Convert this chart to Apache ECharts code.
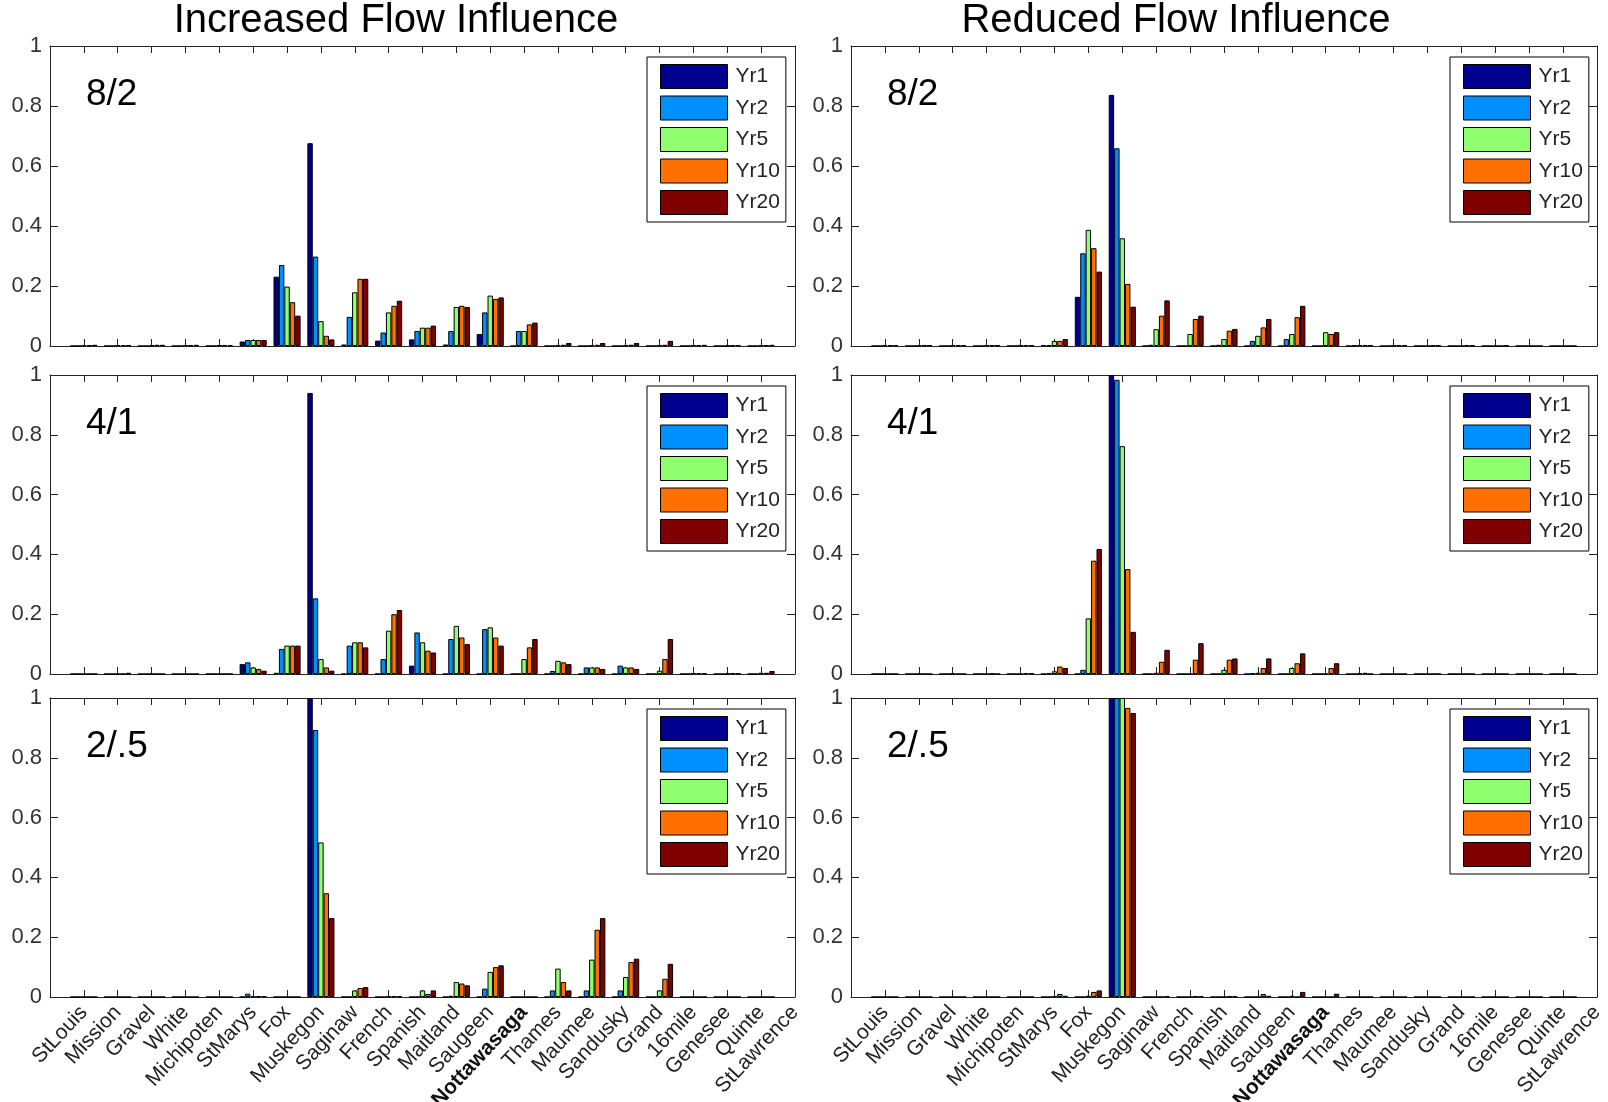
<!DOCTYPE html>
<html>
<head>
<meta charset="utf-8">
<script src="https://cdn.jsdelivr.net/npm/echarts@6/dist/echarts.min.js"></script>
<style>
  html, body { margin: 0; padding: 0; background: #fff; }
  #chart { width: 1608px; height: 1102px; }
</style>
</head>
<body>
<div id="chart"></div>
<script>
// River mouths, west to east (22 labels; data exists for the first 21)
const sites = ['StLouis', 'Mission', 'Gravel', 'White', 'Michipoten', 'StMarys', 'Fox',
  'Muskegon', 'Saginaw', 'French', 'Spanish', 'Maitland', 'Saugeen', 'Nottawasaga',
  'Thames', 'Maumee', 'Sandusky', 'Grand', '16mile', 'Genesee', 'Quinte', 'StLawrence'];
const years = ['Yr1', 'Yr2', 'Yr5', 'Yr10', 'Yr20'];
const yearColors = ['#00008F', '#008FFF', '#8FFF70', '#FF7000', '#800000'];
const yTickValues = [0, 0.2, 0.4, 0.6, 0.8, 1];
const columnTitles = ['Increased Flow Influence', 'Reduced Flow Influence'];
const rowLabels = ['8/2', '4/1', '2/.5'];

// Increased flow influence, 8/2
const inc82Yr1  = [0,0,0,0,0, 0.015,0.231,0.676,0.005,0.018, 0.022,0.005,0.040,0,0, 0,0,0,0,0, 0];
const inc82Yr2  = [0,0,0,0,0, 0.020,0.270,0.298,0.097,0.045, 0.050,0.050,0.112,0.050,0, 0,0,0,0,0, 0];
const inc82Yr5  = [0.003,0.003,0.003,0.003,0.003, 0.020,0.198,0.083,0.179,0.112, 0.061,0.130,0.168,0.050,0.003, 0.003,0.003,0.003,0.003,0.002, 0.003];
const inc82Yr10 = [0.003,0.003,0.004,0.003,0.003, 0.020,0.146,0.034,0.224,0.134, 0.061,0.134,0.157,0.072,0.004, 0.004,0.004,0.004,0.003,0.002, 0.003];
const inc82Yr20 = [0.004,0.003,0.004,0.004,0.003, 0.020,0.101,0.022,0.224,0.151, 0.068,0.130,0.162,0.078,0.010, 0.010,0.010,0.017,0.004,0.003, 0.004];

// Reduced flow influence, 8/2
const red82Yr1  = [0,0,0,0,0, 0.003,0.164,0.837,0,0, 0,0,0,0,0, 0,0,0,0,0, 0];
const red82Yr2  = [0,0,0,0,0, 0.003,0.309,0.659,0.004,0, 0.004,0.017,0.023,0,0.002, 0,0,0,0,0, 0];
const red82Yr5  = [0.003,0.002,0.003,0.003,0.003, 0.017,0.387,0.359,0.056,0.040, 0.023,0.034,0.040,0.046,0.003, 0.002,0,0,0,0, 0];
const red82Yr10 = [0.003,0.003,0.003,0.003,0.003, 0.017,0.326,0.207,0.101,0.090, 0.051,0.062,0.096,0.040,0.003, 0.003,0.002,0.002,0,0, 0];
const red82Yr20 = [0.003,0.003,0.003,0.003,0.003, 0.023,0.248,0.131,0.152,0.101, 0.057,0.090,0.134,0.046,0.003, 0.003,0.002,0.002,0.002,0, 0];

// Increased flow influence, 4/1
const inc41Yr1  = [0,0,0,0,0, 0.033,0.004,0.940,0,0, 0.028,0,0,0,0, 0,0,0,0,0, 0];
const inc41Yr2  = [0,0,0,0,0, 0.039,0.084,0.253,0.095,0.050, 0.139,0.117,0.150,0,0.010, 0.022,0.028,0,0,0, 0];
const inc41Yr5  = [0,0,0,0,0, 0.022,0.095,0.050,0.106,0.145, 0.106,0.161,0.156,0.050,0.044, 0.022,0.022,0.011,0.003,0.002, 0.004];
const inc41Yr10 = [0,0,0,0,0, 0.017,0.095,0.022,0.106,0.200, 0.078,0.122,0.122,0.089,0.039, 0.022,0.022,0.050,0.003,0.003, 0.004];
const inc41Yr20 = [0,0.004,0,0,0, 0.011,0.095,0.011,0.089,0.214, 0.072,0.100,0.095,0.117,0.033, 0.017,0.017,0.117,0.002,0.002, 0.010];

// Reduced flow influence, 4/1
const red41Yr1  = [0,0,0,0,0, 0,0,1.000,0,0, 0,0,0,0,0, 0,0,0,0,0, 0];
const red41Yr2  = [0,0,0,0,0, 0.003,0.014,0.984,0,0, 0,0.003,0,0,0, 0,0,0,0,0, 0];
const red41Yr5  = [0,0,0.003,0,0, 0.009,0.186,0.762,0.004,0, 0.014,0.004,0.020,0,0.003, 0,0,0,0,0, 0];
const red41Yr10 = [0,0,0,0.002,0.003, 0.025,0.379,0.351,0.041,0.048, 0.048,0.020,0.036,0.020,0.004, 0,0,0,0,0, 0];
const red41Yr20 = [0,0,0,0,0.003, 0.020,0.418,0.141,0.081,0.103, 0.052,0.052,0.069,0.036,0, 0,0,0,0,0, 0];

// Increased flow influence, 2/.5
const inc25Yr1  = [0,0,0,0,0, 0,0,1.000,0,0, 0,0,0,0,0, 0,0,0,0,0, 0];
const inc25Yr2  = [0,0,0,0,0, 0.011,0,0.893,0,0, 0,0.004,0.028,0,0.022, 0.022,0.022,0,0,0, 0];
const inc25Yr5  = [0,0,0,0,0, 0.003,0,0.517,0.022,0.003, 0.022,0.050,0.084,0,0.095, 0.125,0.067,0.022,0,0, 0];
const inc25Yr10 = [0,0,0,0,0, 0.003,0,0.347,0.030,0.003, 0.010,0.045,0.100,0,0.050, 0.225,0.117,0.061,0,0, 0];
const inc25Yr20 = [0,0,0,0,0, 0.003,0,0.264,0.033,0.003, 0.022,0.039,0.106,0,0.022, 0.264,0.128,0.111,0,0, 0];

// Reduced flow influence, 2/.5
const red25Yr1  = [0,0,0,0,0, 0,0,1.000,0,0, 0,0,0,0,0, 0,0,0,0,0, 0];
const red25Yr2  = [0,0,0,0,0, 0,0,1.000,0,0, 0,0,0,0,0, 0,0,0,0,0, 0];
const red25Yr5  = [0,0,0,0,0, 0.003,0.004,1.000,0,0, 0,0,0.004,0,0, 0,0,0,0,0, 0];
const red25Yr10 = [0,0,0,0,0, 0.010,0.017,0.967,0,0.003, 0.003,0.010,0,0,0, 0,0,0,0,0, 0];
const red25Yr20 = [0,0,0,0,0, 0.004,0.022,0.950,0.003,0.003, 0.003,0.004,0.017,0.011,0, 0,0,0,0,0, 0];

// panel order: row by row, left (increased) then right (reduced)
const panelSeries = [
  [inc82Yr1, inc82Yr2, inc82Yr5, inc82Yr10, inc82Yr20],
  [red82Yr1, red82Yr2, red82Yr5, red82Yr10, red82Yr20],
  [inc41Yr1, inc41Yr2, inc41Yr5, inc41Yr10, inc41Yr20],
  [red41Yr1, red41Yr2, red41Yr5, red41Yr10, red41Yr20],
  [inc25Yr1, inc25Yr2, inc25Yr5, inc25Yr10, inc25Yr20],
  [red25Yr1, red25Yr2, red25Yr5, red25Yr10, red25Yr20]
];

// ---- layout ----
const FONT = '"Liberation Sans", Arial, Helvetica, sans-serif';
const colLeft = [50, 851];
const colWidth = [745, 746];
const rowTop = [46, 375, 698];
const rowHeight = [300, 299, 299];
const legendLeft = [647, 1450];
const AXIS_COLOR = '#222';

// x positions: 0 is the left edge, sites at 1..22 (xlim 0..22)
const axisCats = [''].concat(sites);
const tickShown = (idx) => idx >= 1 && idx <= 21;

const grids = [], xAxes = [], yAxes = [], series = [], legends = [], graphics = [];

for (let r = 0; r < 3; r++) {
  for (let c = 0; c < 2; c++) {
    const g = r * 2 + c;
    grids.push({ left: colLeft[c], top: rowTop[r], width: colWidth[c], height: rowHeight[r],
      containLabel: false, outerBoundsMode: 'none',
      show: true, backgroundColor: '#fff', borderWidth: 0 });

    const lineStyle = { color: AXIS_COLOR, width: 1 };
    // bottom category axis
    xAxes.push({
      type: 'category', gridIndex: g, data: axisCats, boundaryGap: false,
      axisLine: { show: true, onZero: false, lineStyle },
      axisTick: { show: true, inside: true, length: 7, interval: tickShown, lineStyle },
      axisLabel: {
        show: r === 2, interval: 0, rotate: 47, margin: 12,
        fontFamily: FONT, fontSize: 21, color: '#222',
        formatter: (v) => v === 'Nottawasaga' ? '{b|' + v + '}' : v,
        rich: { b: { fontFamily: FONT, fontSize: 21, fontWeight: 'bold', color: '#111' } }
      },
      splitLine: { show: false }
    });
    // top mirror axis (ticks only)
    xAxes.push({
      type: 'category', gridIndex: g, data: axisCats, boundaryGap: false, position: 'top',
      axisLine: { show: true, onZero: false, lineStyle },
      axisTick: { show: true, inside: true, length: 7, interval: tickShown, lineStyle },
      axisLabel: { show: false }, splitLine: { show: false }
    });
    // left value axis
    yAxes.push({
      type: 'value', gridIndex: g, min: 0, max: 1, interval: 0.2,
      axisLine: { show: true, onZero: false, lineStyle },
      axisTick: { show: true, inside: true, length: 8, lineStyle },
      axisLabel: {
        show: true, margin: 8, fontFamily: FONT, fontSize: 22, color: '#333',
        formatter: (v) => String(yTickValues.find((t) => Math.abs(t - v) < 1e-9) ?? v)
      },
      splitLine: { show: false }
    });
    // right mirror axis (ticks only)
    yAxes.push({
      type: 'value', gridIndex: g, min: 0, max: 1, interval: 0.2, position: 'right',
      axisLine: { show: true, onZero: false, lineStyle },
      axisTick: { show: true, inside: true, length: 8, lineStyle },
      axisLabel: { show: false }, splitLine: { show: false }
    });

    panelSeries[g].forEach((vals, i) => {
      series.push({
        type: 'bar', name: years[i],
        xAxisIndex: g * 2, yAxisIndex: g * 2,
        data: [null].concat(vals, [null]),
        barGap: '0%', barCategoryGap: '20%',
        itemStyle: { color: yearColors[i], borderColor: '#000', borderWidth: 1 },
        emphasis: { disabled: true },
        silent: true, animation: false
      });
    });

    legends.push({
      data: years, orient: 'vertical',
      left: legendLeft[c], top: rowTop[r] + 11,
      itemWidth: 67, itemHeight: 24, itemGap: 6.5,
      padding: [7, 6, 7, 13],
      backgroundColor: '#fff', borderColor: '#000', borderWidth: 1, borderRadius: 0,
      icon: 'rect', selectedMode: false,
      itemStyle: { borderColor: '#000', borderWidth: 1 },
      textStyle: { fontFamily: FONT, fontSize: 21, color: '#222', padding: [0, 0, 0, 3] }
    });

    graphics.push({
      type: 'text', left: colLeft[c] + 36, top: rowTop[r] + 30,
      style: { text: rowLabels[r], font: '37px ' + FONT, fill: '#000' }
    });
  }
}

const titleCenters = [396, 1176];
columnTitles.forEach((t, c) => {
  graphics.push({
    type: 'text', x: titleCenters[c], y: 21,
    style: { text: t, font: '40px ' + FONT, fill: '#000',
      align: 'center', verticalAlign: 'middle', textAlign: 'center', textVerticalAlign: 'middle' }
  });
});

const chart = echarts.init(document.getElementById('chart'), null, { renderer: 'canvas' });
chart.setOption({
  backgroundColor: '#fff',
  animation: false,
  grid: grids,
  xAxis: xAxes,
  yAxis: yAxes,
  legend: legends,
  series: series,
  graphic: graphics
});
</script>
</body>
</html>
